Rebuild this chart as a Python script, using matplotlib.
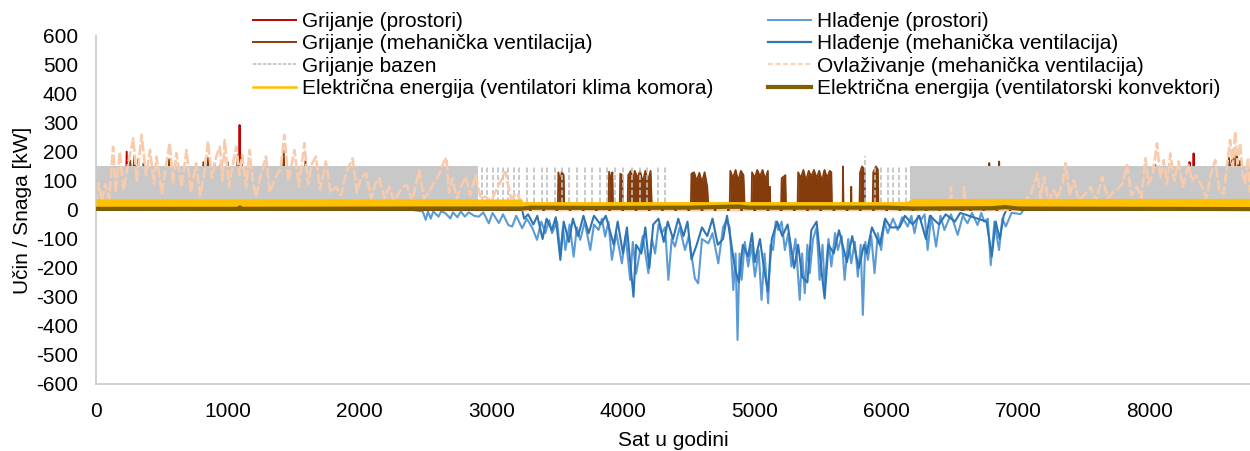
import numpy as np
import matplotlib
matplotlib.use("Agg")
import matplotlib.pyplot as plt
from matplotlib.lines import Line2D

plt.rcParams['font.family'] = ['Liberation Sans', 'DejaVu Sans']
plt.rcParams['axes.unicode_minus'] = False

# Grijanje (prostori) (hour, kW)
gr_pr_h = [0, 225, 233, 240, 1085, 1090, 1095, 8295, 8301, 8307, 8326, 8332, 8338, 8760]
gr_pr_kw = [0, 0, 201, 0, 0, 293, 0, 0, 165, 0, 0, 195, 0, 0]

# Hlađenje (prostori)
hl_pr_h = [2400, 2480, 2503, 2520, 2541, 2560, 2600, 2620, 2650, 2690, 2710, 2743, 2770, 2800,
           2830, 2870, 2906, 2940, 2982, 3010, 3058, 3090, 3130, 3159, 3190, 3235, 3270, 3310,
           3348, 3380, 3411, 3440, 3462, 3500, 3525, 3545, 3563, 3595, 3626, 3650, 3676, 3710,
           3752, 3780, 3815, 3840, 3865, 3890, 3916, 3950, 3992, 4020, 4055, 4075, 4100, 4118,
           4150, 4193, 4220, 4244, 4270, 4294, 4320, 4345, 4370, 4395, 4430, 4471, 4500, 4546,
           4571, 4600, 4648, 4680, 4724, 4760, 4787, 4810, 4838, 4855, 4870, 4885, 4901, 4925,
           4951, 4975, 5002, 5030, 5052, 5075, 5102, 5120, 5140, 5160, 5178, 5205, 5229, 5255,
           5279, 5310, 5342, 5360, 5380, 5400, 5418, 5443, 5470, 5493, 5515, 5531, 5560, 5582,
           5610, 5632, 5660, 5683, 5710, 5733, 5760, 5783, 5805, 5821, 5840, 5859, 5885, 5910,
           5935, 5960, 5985, 6010, 6050, 6086, 6120, 6162, 6190, 6213, 6240, 6263, 6290, 6313,
           6340, 6377, 6410, 6440, 6490, 6541, 6580, 6616, 6650, 6692, 6720, 6742, 6770, 6792,
           6820, 6855, 6880, 6906, 6950, 7019, 7040]
hl_pr_kw = [0, -5, -34, -5, -30, -5, -23, -5, -10, -29, -8, -25, -5, -23,
            -8, -20, -23, -8, -46, -10, -45, -15, -52, -57, -20, -63, -30, -60,
            -103, -40, -80, -35, -80, -40, -150, -60, -138, -50, -161, -60, -103, -40,
            -138, -50, -69, -30, -92, -40, -172, -80, -184, -90, -241, -110, -220, -172,
            -90, -218, -100, -150, -50, -80, -60, -241, -100, -126, -60, -138, -90, -236,
            -253, -100, -115, -80, -184, -60, -34, -60, -276, -150, -448, -150, -241, -110,
            -195, -120, -230, -140, -310, -150, -322, -120, -138, -40, -69, -40, -138, -80,
            -195, -100, -310, -150, -287, -120, -218, -100, -60, -241, -120, -260, -100, -195,
            -80, -138, -90, -241, -100, -184, -110, -230, -120, -362, -110, -172, -90, -218,
            -80, -138, -40, -80, -30, -69, -25, -57, -20, -80, -20, -34, -15, -138,
            -20, -126, -20, -69, -15, -86, -20, -46, -10, -52, -10, -40, -30, -190,
            -40, -138, -30, -57, -10, -14, 0]

# Grijanje (mehanička ventilacija)
gr_mv_h = [0, 240, 260, 275, 290, 305, 320, 340, 360, 380, 540, 555, 570, 800, 815, 830, 850,
           870, 900, 920, 950, 975, 1000, 1020, 1060, 1075, 1090, 1105, 1120, 1410, 1425, 1440,
           1575, 1590, 1605, 3505,
           3510, 3525, 3535, 3550, 3555, 3890, 3895, 3910, 3920, 3925, 3975, 3980, 3995, 4000,
           4035, 4040, 4060, 4075, 4090, 4110, 4130, 4150, 4170, 4190, 4210, 4220,
           4515, 4520, 4540, 4560, 4580, 4600, 4620, 4640, 4650,
           4810, 4815, 4835, 4855, 4875, 4895, 4915, 4925,
           4975, 4980, 5000, 5020, 5040, 5060, 5080, 5100, 5105, 5112, 5115, 5120,
           5200, 5205, 5220, 5233, 5238,
           5325, 5330, 5350, 5370, 5390, 5410, 5430, 5450, 5470, 5490, 5510, 5530, 5550, 5570,
           5582, 5587, 5668, 5670, 5675, 5730, 5733, 5736,
           5795, 5800, 5815, 5834, 5838, 5895, 5900, 5920, 5935, 5940,
           6310, 6313, 6316, 6778, 6781, 6784, 6853, 6856, 6859,
           8035, 8041, 8047, 8580, 8600, 8615, 8630, 8645, 8660, 8675, 8685, 8700, 8760]
gr_mv_kw = [0, 0, 170, 60, 185, 80, 175, 60, 160, 0, 0, 175, 0, 0, 165, 50, 180,
            70, 160, 60, 170, 60, 165, 0, 0, 190, 80, 185, 0, 0, 205, 0,
            0, 170, 0, 0,
            130, 90, 132, 120, 0, 0, 132, 100, 130, 0, 0, 125, 120, 0,
            0, 120, 135, 100, 135, 110, 135, 95, 135, 100, 135, 0,
            0, 125, 130, 100, 128, 95, 130, 80, 0,
            0, 135, 110, 138, 100, 135, 120, 0,
            0, 130, 110, 138, 115, 138, 105, 135, 0, 0, 80, 0,
            0, 110, 115, 120, 0,
            0, 130, 110, 138, 100, 135, 115, 138, 110, 135, 100, 138, 110, 135,
            130, 0, 0, 150, 0, 0, 80, 0,
            0, 130, 150, 140, 0, 0, 130, 150, 140, 0,
            0, 140, 0, 0, 162, 0, 0, 167, 0,
            0, 155, 0, 0, 180, 120, 207, 140, 200, 120, 170, 0, 0]

# Hlađenje (mehanička ventilacija)
hl_mv_h = [3235, 3250, 3280, 3320, 3350, 3390, 3420, 3460, 3490, 3525, 3550, 3590, 3620, 3660,
           3700, 3740, 3780, 3830, 3870, 3930, 3960, 4000, 4030, 4080, 4100, 4140, 4170, 4200,
           4230, 4270, 4310, 4340, 4380, 4420, 4460, 4490, 4520, 4560, 4600, 4640, 4680, 4720,
           4760, 4790, 4850, 4880, 4910, 4950, 4980, 5000, 5040, 5070, 5100, 5130, 5170, 5210,
           5250, 5300, 5330, 5360, 5400, 5430, 5470, 5510, 5531, 5560, 5600, 5640, 5700, 5740,
           5790, 5830, 5850, 5890, 5950, 5990, 6030, 6100, 6140, 6200, 6250, 6300, 6330, 6400,
           6450, 6520, 6560, 6760, 6800, 6830, 6860, 6890, 6910]
hl_mv_kw = [0, -30, -15, -50, -20, -100, -30, -70, -25, -172, -40, -110, -30, -90,
            -20, -80, -20, -50, -20, -120, -40, -150, -60, -299, -120, -150, -60, -200,
            -50, -30, -110, -40, -100, -30, -90, -40, -170, -120, -60, -90, -30, -120,
            -100, -20, -200, -250, -120, -160, -80, -180, -100, -200, -280, -100, -40, -90,
            -50, -200, -120, -230, -250, -70, -40, -220, -305, -120, -150, -70, -180, -90,
            -200, -120, -150, -60, -120, -30, -60, -60, -20, -50, -20, -100, -20, -50,
            -15, -40, -10, -40, -160, -40, -100, -20, 0]

# Grijanje bazen - dense 0/150 periods and single pulses in summer
baz_h = [0, 2900, 2900, 6180, 6180, 8760]
baz_kw = [150, 150, 0, 0, 150, 150]
baz_pulse_h = [2930, 2970, 3010, 3050, 3090, 3130, 3170, 3210, 3272, 3323, 3386, 3424, 3487,
               3537, 3588, 3651, 3714, 3764, 3827, 3878, 3941, 4004, 4067, 4130, 4181, 4269,
               4319, 5834, 5910, 5960, 6010, 6048, 6099, 6149]
baz_pulse_kw = [150] * 27 + [185, 150, 150, 150, 150, 150, 150]

# Ovlaživanje (mehanička ventilacija)
ovl_h = [0, 20, 45, 70, 100, 130, 150, 180, 210, 240, 283, 310, 346, 380, 410, 440, 460, 500,
         530, 560, 585, 610, 650, 687, 720, 760, 790, 820, 850, 880, 910, 940, 960, 977, 1010,
         1040, 1065, 1090, 1110, 1140, 1166, 1190, 1216, 1250, 1290, 1320, 1360, 1400, 1430,
         1460, 1507, 1540, 1582, 1610, 1640, 1670, 1700, 1745, 1780, 1822, 1860, 1900, 1948,
         1980, 2010, 2050, 2090, 2120, 2150, 2190, 2226, 2260, 2300, 2327, 2360, 2400, 2452,
         2490, 2528, 2560, 2600, 2642, 2660, 2680, 2705, 2740, 2780, 2806, 2840, 2881, 2920,
         2957, 3000, 3050, 3108, 3150, 3197, 3235, 3240, 6480, 6490, 6500, 6580, 6590, 6600,
         7000, 7050, 7100, 7146, 7170, 7196, 7230, 7272, 7300, 7340, 7360, 7390, 7423, 7460,
         7500, 7550, 7590, 7638, 7680, 7720, 7751, 7790, 7827, 7860, 7903, 7935, 7966, 7990,
         8020, 8054, 8080, 8105, 8130, 8155, 8185, 8218, 8250, 8294, 8320, 8350, 8395, 8430,
         8460, 8496, 8530, 8559, 8585, 8609, 8630, 8647, 8665, 8685, 8705, 8723, 8745, 8760]
ovl_kw = [20, 92, 30, 90, 40, 218, 60, 200, 70, 150, 247, 100, 259, 120, 207, 90, 184, 58,
          150, 231, 90, 196, 80, 207, 60, 161, 50, 120, 236, 110, 180, 218, 100, 241, 80,
          160, 218, 120, 190, 80, 207, 100, 45, 120, 184, 60, 110, 140, 259,
          100, 207, 80, 230, 90, 160, 184, 70, 167, 60, 80, 50, 130, 178,
          60, 110, 127, 40, 90, 110, 40, 80, 30, 60, 80, 86, 30, 138,
          40, 60, 90, 120, 167, 180, 60, 110, 40, 90, 115, 50, 121, 40,
          46, 30, 80, 132, 40, 58, 20, 0, 0, 80, 0, 0, 80, 0,
          0, 30, 60, 126, 40, 115, 30, 69, 40, 100, 161, 50, 103, 30,
          50, 80, 30, 115, 40, 60, 69, 90, 155, 50, 80, 40, 178, 90,
          120, 230, 110, 172, 90, 195, 100, 167, 80, 155, 100, 120, 80, 40,
          120, 172, 60, 57, 150, 241, 150, 270, 160, 230, 120, 92, 180, 60]

# Električna energija (ventilatori klima komora) - band of daily swings
ekk_h = [0, 3235, 3235, 6150, 6200, 8760]
ekk_hi = [38, 38, 29, 29, 40, 40]
ekk_lo = [10, 10, 8, 8, 7, 7]

# Električna energija (ventilatorski konvektori)
ekv_h = [0, 1085, 1092, 1100, 2500, 3235, 3300, 3800, 4500, 4880, 4950, 5500, 6000, 6200,
         6800, 6900, 7000, 8760]
ekv_kw = [4, 4, 9, 4, 5, 5, 8, 7, 8, 12, 8, 8, 8, 5, 6, 10, 5, 3]

fig = plt.figure(figsize=(12.5, 4.51), dpi=100)
ax = fig.add_axes([0.0768, 0.1486, 0.9232, 0.7716])

c_red = '#C00000'
c_lblue = '#5B9BD5'
c_brown = '#843C0C'
c_dblue = '#2E75B6'
c_gray = '#BFBFBF'
c_peach = '#F8CBAD'
c_yel = '#FFC000'
c_olive = '#7F6000'

# drawing order follows the series order of the original chart
ax.plot(gr_pr_h, gr_pr_kw, color=c_red, lw=1.4, zorder=2.0)
ax.plot(hl_pr_h, hl_pr_kw, color=c_lblue, lw=1.5, zorder=2.1)

gm_h = np.array(gr_mv_h)
gm_kw = np.array(gr_mv_kw)
ax.fill_between(gm_h, 0, gm_kw, where=(gm_h > 3000) & (gm_h < 7000), color=c_brown, lw=0,
                zorder=2.2)
ax.plot(gr_mv_h, gr_mv_kw, color=c_brown, lw=1.3, zorder=2.2)
ax.plot(hl_mv_h, hl_mv_kw, color=c_dblue, lw=1.5, zorder=2.3)

ax.fill_between(baz_h, 0, baz_kw, color='#C8C8C8', lw=0, zorder=2.4)
ax.vlines(baz_pulse_h, 0, baz_pulse_kw, colors=c_gray, linestyles=(0, (3, 1.5)), lw=1.2,
          zorder=2.4)

ax.plot(ovl_h, ovl_kw, color=c_peach, lw=1.9, ls=(0, (4, 1)), zorder=2.5)

ax.fill_between(ekk_h, ekk_lo, ekk_hi, color=c_yel, lw=0, zorder=2.6)
ax.plot(ekv_h, ekv_kw, color=c_olive, lw=3, zorder=2.7)

ax.set_xlim(0, 8760)
ax.set_ylim(-600, 600)
ax.set_xticks(np.arange(0, 8001, 1000))
ax.set_yticks(np.arange(-600, 601, 100))
ax.tick_params(length=0, labelsize=15, colors='#000000')
ax.tick_params(axis='y', pad=13)
ax.tick_params(axis='x', pad=13)
for s in ['top', 'right']:
    ax.spines[s].set_visible(False)
for s in ['left', 'bottom']:
    ax.spines[s].set_color('#C8C8C8')
    ax.spines[s].set_linewidth(1.2)

ax.set_xlabel('Sat u godini', fontsize=15, labelpad=7)
ax.set_ylabel('Učin / Snaga [kW]', fontsize=15, labelpad=3)

handles = [Line2D([], [], color=c_red, lw=1.4),
           Line2D([], [], color=c_brown, lw=1.4),
           Line2D([], [], color=c_gray, lw=1.2, ls=(0, (2, 1))),
           Line2D([], [], color=c_yel, lw=1.8),
           Line2D([], [], color=c_lblue, lw=1.4),
           Line2D([], [], color=c_dblue, lw=1.6),
           Line2D([], [], color=c_peach, lw=1.2, ls=(0, (3, 1.5))),
           Line2D([], [], color=c_olive, lw=3)]
labels = ['Grijanje (prostori)', 'Grijanje (mehanička ventilacija)', 'Grijanje bazen',
          'Električna energija (ventilatori klima komora)',
          'Hlađenje (prostori)', 'Hlađenje (mehanička ventilacija)',
          'Ovlaživanje (mehanička ventilacija)', 'Električna energija (ventilatorski konvektori)']
fig.legend(handles, labels, ncol=2, loc='upper left', bbox_to_anchor=(253 / 1250, 1 - 12 / 451),
           frameon=False, fontsize=15, borderpad=0, borderaxespad=0, handlelength=2.07,
           handletextpad=0.3, labelspacing=0.16, columnspacing=2.6)

fig.savefig('out.png', dpi=100)
